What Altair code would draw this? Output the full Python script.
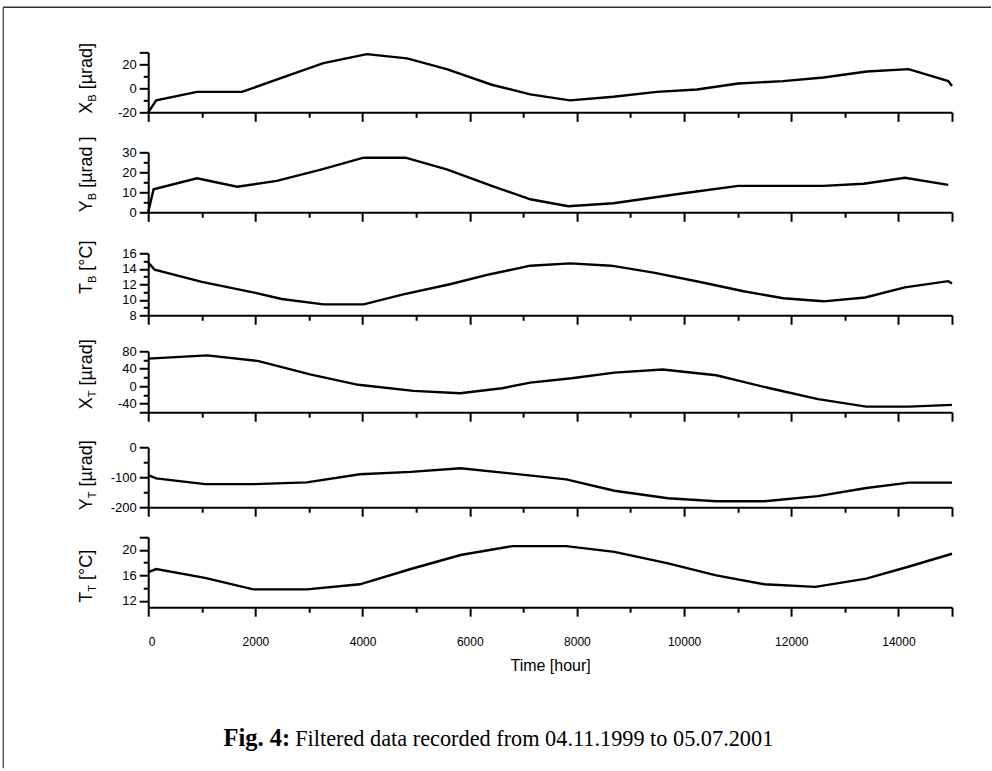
import altair as alt
import pandas as pd

# ---------------- data ----------------
HOURS_XB = [0, 150, 910, 1750, 2500, 3270, 4080, 4830, 5570, 6410, 7130, 7870,
            8680, 9490, 10240, 11010, 11850, 12600, 13410, 14190, 14930, 15000]
XB = [-20, -10, -3, -3, 9, 21, 28.5, 25, 16, 3, -5, -10,
      -7, -3, -1, 4, 6, 9, 14, 16, 6, 2]

HOURS_YB = [0, 100, 910, 1660, 2400, 3240, 4020, 4800, 5570, 6410, 7130, 7840,
            8680, 9990, 11010, 12600, 13350, 14120, 14930]
YB = [0, 11.5, 17, 12.8, 15.7, 21.5, 27.3, 27.3, 21.5, 13.2, 6.5, 3,
      4.5, 9.5, 13.2, 13.2, 14.3, 17.3, 13.7]

HOURS_TB = [0, 120, 1000, 2000, 2490, 3270, 4020, 4760, 5630, 6380, 7130, 7870,
            8640, 9430, 10300, 11110, 11850, 12600, 13380, 14120, 14930, 15000]
TB = [14.8, 13.9, 12.3, 10.9, 10.1, 9.4, 9.4, 10.7, 12, 13.3, 14.4, 14.7,
      14.4, 13.5, 12.3, 11.1, 10.2, 9.8, 10.3, 11.6, 12.4, 12.1]

HOURS_XT = [0, 1100, 2060, 3020, 3920, 4950, 5820, 6600, 7130, 7900, 8700, 9600,
            10600, 11600, 12500, 13400, 14200, 15000]
XT = [63, 70.5, 57.5, 27, 3, -11, -16.5, -5, 8, 18, 31, 38,
      25, -5, -30, -47, -47, -43]

HOURS_YT = [0, 150, 1060, 1960, 2960, 3950, 4900, 5830, 6800, 7800, 8700, 9700,
            10600, 11500, 12500, 13400, 14200, 15000]
YT = [-93, -104, -123, -123, -117, -90, -82, -70, -88, -107, -145, -170,
      -180, -180, -163, -136, -118, -118]

HOURS_TT = [0, 150, 1060, 1960, 2960, 3950, 4900, 5830, 6800, 7800, 8700, 9700,
            10600, 11500, 12450, 13400, 14200, 15000]
TT = [16.5, 17, 15.6, 13.8, 13.8, 14.6, 17, 19.2, 20.6, 20.6, 19.7, 17.9,
      16, 14.6, 14.2, 15.5, 17.4, 19.4]

X_TICKS = list(range(0, 15001, 1000))
X_LABELED = list(range(0, 14001, 2000))
X_TITLE = "Time [hour]"
CAPTION_BOLD = "Fig. 4:"
CAPTION_TEXT = "Filtered data recorded from 04.11.1999 to 05.07.2001"

FONT = "Liberation Sans"
SERIF = "Liberation Serif"
PLOT_W = 804

EMW = {"X": .667, "Y": .667, "T": .611, "B": .667, " ": .278, "[": .278,
       "]": .278, "µ": .576, "r": .333, "a": .556, "d": .556, "°": .4, "C": .722}


def tw(s, size):
    return sum(EMW.get(c, .556) for c in s) * size


PANELS = [
    dict(h=HOURS_XB, v=XB, domain=[-20, 30], ticks=[-20, -10, 0, 10, 20, 30],
         labeled=[-20, 0, 20], major=[-20, 0, 20, 30], height=60,
         title=("X", "B", "[µrad]"), tc=26),
    dict(h=HOURS_YB, v=YB, domain=[0, 30], ticks=[0, 5, 10, 15, 20, 25, 30],
         labeled=[0, 10, 20, 30], major=[0, 10, 20, 30], height=60,
         title=("Y", "B", "[µrad ]"), tc=22),
    dict(h=HOURS_TB, v=TB, domain=[8, 16], ticks=list(range(8, 17)),
         labeled=[8, 10, 12, 14, 16], major=[8, 10, 12, 14, 16], height=62,
         title=("T", "B", "[°C]"), tc=14),
    dict(h=HOURS_XT, v=XT, domain=[-60, 80], ticks=[-60, -40, -20, 0, 20, 40, 60, 80],
         labeled=[-40, 0, 40, 80], major=[-60, -40, 0, 40, 80], height=61,
         title=("X", "T", "[µrad]"), tc=23),
    dict(h=HOURS_YT, v=YT, domain=[-200, 0], ticks=[-200, -150, -100, -50, 0],
         labeled=[-200, -100, 0], major=[-200, -100, 0], height=60,
         title=("Y", "T", "[µrad]"), tc=28),
    dict(h=HOURS_TT, v=TT, domain=[11, 22], ticks=[12, 14, 16, 18, 20, 22],
         labeled=[12, 16, 20], major=[12, 16, 20, 22], height=70,
         title=("T", "T", "[°C]"), tc=39),
]
GAPS = [40, 41, 36, 35, 30]

ONE = alt.Data(values=[{"k": 0}])


def rot_text(text, x, y, size):
    return alt.Chart(ONE).mark_text(
        text=text, font=FONT, fontSize=size, angle=270, align="left",
        baseline="alphabetic", color="black"
    ).encode(x=alt.value(x), y=alt.value(y))


def build(i, p):
    bottom = i == len(PANELS) - 1
    df = pd.DataFrame({"hours": p["h"], "value": p["v"]})
    xaxis_kw = dict(
        values=X_TICKS, format="d", orient="bottom", grid=False,
        tickSize={"condition": {"test": "datum.value % 2000 === 0 || datum.value === 15000",
                                "value": 9}, "value": 5},
        labels=bottom,
        title=X_TITLE if bottom else "",
    )
    if bottom:
        xaxis_kw.update(
            labelExpr="indexof(%s, datum.value) >= 0 ? datum.label : ''" % X_LABELED,
            labelFontSize=12, labelPadding=20, titleFontSize=16, titlePadding=10,
            titleFont=FONT, titleFontWeight="normal", titleColor="black",
        )
    yaxis = alt.Axis(
        values=p["ticks"], orient="left", grid=False, title="",
        tickSize={"condition": {"test": "indexof(%s, datum.value) >= 0" % p["major"],
                                "value": 9}, "value": 5},
        labelExpr="indexof(%s, datum.value) >= 0 ? replace(datum.label, '\u2212', '-') : ''"
                  % p["labeled"],
        labelFontSize=13, labelPadding=3,
    )
    line = alt.Chart(df).mark_line(color="black", strokeWidth=2.4).encode(
        x=alt.X("hours:Q", scale=alt.Scale(domain=[0, 15000], nice=False, zero=False),
                axis=alt.Axis(**xaxis_kw)),
        y=alt.Y("value:Q", scale=alt.Scale(domain=p["domain"], nice=False, zero=False),
                axis=yaxis),
    )
    main, sub, rest = p["title"]
    fs, sfs = 18, 11
    gap = tw(" ", fs)
    total = tw(main, fs) + tw(sub, sfs) + gap + tw(rest, fs)
    y0 = p["tc"] + total / 2
    xb = -56
    layers = [line,
              rot_text(main, xb, y0, fs),
              rot_text(sub, xb + 4, y0 - tw(main, fs), sfs),
              rot_text(rest, xb, y0 - tw(main, fs) - tw(sub, sfs) - gap, fs)]
    if i == 0:
        layers.append(alt.Chart(ONE).mark_rule(color="#333333", strokeWidth=1.5).encode(
            x=alt.value(-145), x2=alt.value(843), y=alt.value(-45), y2=alt.value(-45)))
        layers.append(alt.Chart(ONE).mark_rule(color="#333333", strokeWidth=1.2).encode(
            x=alt.value(-145), x2=alt.value(-145), y=alt.value(-45), y2=alt.value(716)))
    if bottom:
        layers.append(alt.Chart(ONE).mark_text(
            text=CAPTION_BOLD, font=SERIF, fontSize=24.5, fontWeight="bold", align="right",
            baseline="alphabetic", color="black").encode(x=alt.value(142), y=alt.value(209)))
        layers.append(alt.Chart(ONE).mark_text(
            text=CAPTION_TEXT, font=SERIF, fontSize=22.3, align="left",
            baseline="alphabetic", color="black").encode(x=alt.value(147), y=alt.value(209)))
    return alt.layer(*layers).properties(width=PLOT_W, height=p["height"])


charts = [build(i, p) for i, p in enumerate(PANELS)]

# nest from the bottom up so that each gap can differ
stack = charts[-1]
for i in range(len(charts) - 2, -1, -1):
    stack = alt.vconcat(charts[i], stack, spacing=GAPS[i], bounds="flush")

chart = stack.properties(
    padding={"left": 2.25, "top": 6.25, "right": 0, "bottom": 0}
).configure_view(stroke=None).configure_axis(
    domainColor="black", domainWidth=2, tickColor="black", tickWidth=2,
    labelFont=FONT, labelColor="black", titleFont=FONT,
)

chart.save("out.html", embed_options={"renderer": "svg", "actions": False})
